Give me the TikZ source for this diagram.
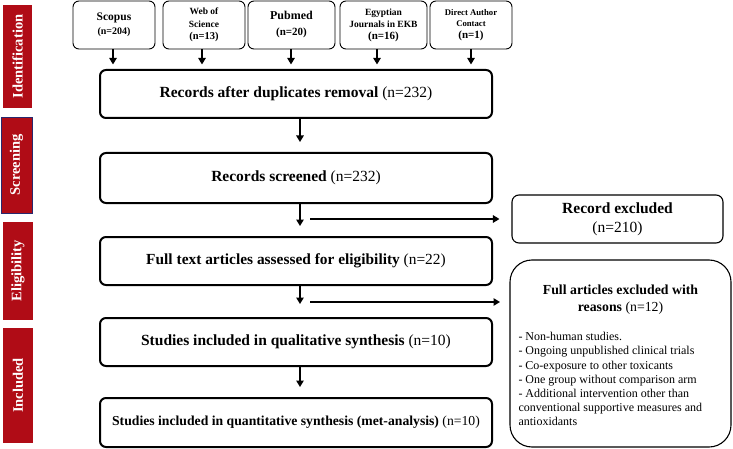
\documentclass[tikz,border=0pt]{standalone}
\usepackage{fontspec}
\setmainfont{Liberation Serif}
\usetikzlibrary{arrows.meta}
\definecolor{barred}{RGB}{176,12,22}
\definecolor{barnavy}{RGB}{40,40,110}
\newcommand{\fs}[2]{\fontsize{#1}{#2}\selectfont}
\begin{document}
\begin{tikzpicture}[x=1pt,y=-1pt,
  src/.style={draw, rounded corners=6pt, line width=0.9pt, align=center, inner sep=0pt, minimum height=48pt},
  mainbox/.style={draw, rounded corners=6pt, line width=2pt, align=center, inner sep=0pt, minimum width=392pt},
  sidebox/.style={draw, rounded corners=7pt, line width=1.1pt, align=center, inner sep=0pt},
  bar/.style={fill=barred, inner sep=0pt, rotate=90, text=white, font=\fs{14.5}{16}\bfseries},
  arr/.style={-{Triangle[length=6.5pt,width=7.5pt]}, line width=1.3pt},
]
\useasboundingbox (0,0) rectangle (733,449);

% phase bars
\node[bar, minimum width=103pt, minimum height=29pt] (b1) at (17.5,56.5) {Identification};
\node[bar, draw=barnavy, line width=0.6pt, minimum width=96pt, minimum height=31pt] (b2) at (16.5,165) {Screening};
\node[bar, minimum width=98pt, minimum height=30pt] (b3) at (18,271) {Eligibility};
\node[bar, minimum width=115pt, minimum height=30pt] (b4) at (18,385.5) {Included};

% sources
\node[src, minimum width=82pt, font=\fs{11.5}{14}\bfseries] (s1) at (114,25)
  {Scopus\\\fs{10}{14}(n=204)};
\node[src, minimum width=82pt, font=\fs{9.5}{12.5}\bfseries] (s2) at (204,25)
  {Web of\\Science\\\fs{10.5}{13}(n=13)};
\node[src, minimum width=87pt, font=\fs{12}{16}\bfseries] (s3) at (291.5,25)
  {Pubmed\\\fs{11}{16}(n=20)};
\node[src, minimum width=87pt, font=\fs{9.5}{12}\bfseries] (s4) at (383.5,25)
  {Egyptian\\Journals in EKB\\\fs{11}{13}(n=16)};
\node[src, minimum width=82pt, font=\fs{8.7}{11.5}\bfseries] (s5) at (471,25)
  {Direct Author\\Contact\\\fs{11}{12.5}(n=1)};

% main boxes
\node[mainbox, minimum height=48pt, font=\fs{15.5}{18}] (m1) at (296,94)
  {\textbf{Records after duplicates removal} (n=232)};
\node[mainbox, minimum height=50pt, font=\fs{15.5}{18}] (m2) at (296,178)
  {\textbf{Records screened} (n=232)};
\node[mainbox, minimum height=48pt, font=\fs{15.4}{18}] (m3) at (296,261)
  {\textbf{Full text articles assessed for eligibility} (n=22)};
\node[mainbox, minimum height=48pt, font=\fs{15.5}{18}] (m4) at (296,342)
  {\textbf{Studies included in qualitative synthesis} (n=10)};
\node[mainbox, minimum height=49pt, font=\fs{13.7}{16}] (m5) at (296,422.5)
  {\textbf{Studies included in quantitative synthesis (met-analysis)} (n=10)};

% exclusion boxes
\node[sidebox, minimum width=211pt, minimum height=48pt, font=\fs{15.5}{19}] (r1) at (617.5,219)
  {\raisebox{-2pt}{\textbf{Record excluded}}\\\raisebox{-2pt}{(n=210)}};
\node[sidebox, rounded corners=22pt, minimum width=221pt, minimum height=187pt] (r2) at (620.5,353.5)
  {\parbox{204pt}{\vspace*{4pt}\centering\fs{13.8}{17}\textbf{Full articles excluded with}\\\textbf{reasons} (n=12)\par
   \vspace{15pt}\raggedright\fs{12}{14.2}
   - Non-human studies.\\
   - Ongoing unpublished clinical trials\\
   - Co-exposure to other toxicants\\
   - One group without comparison arm\\
   - Additional intervention other than\\
   conventional supportive measures and\\
   antioxidants}};

% arrows from sources
\draw[arr] ([xshift=-1pt]s1.south) -- ++(0,15);
\draw[arr] ([xshift=-2pt]s2.south) -- ++(0,15);
\draw[arr] ([xshift=-0.5pt]s3.south) -- ++(0,15);
\draw[arr] ([xshift=-6.5pt]s4.south) -- ++(0,15);
\draw[arr] (s5.south) -- ++(0,15);

% main flow
\draw[arr] ([xshift=4pt]m1.south) -- ([xshift=4pt,yshift=10pt]m2.north);
\draw[arr] ([xshift=4pt]m2.south) -- ([xshift=4pt,yshift=10pt]m3.north);
\draw[arr] ([xshift=4pt]m3.south) -- ([xshift=4pt,yshift=13pt]m4.north);
\draw[arr] ([xshift=4pt]m4.south) -- ([xshift=4pt,yshift=10pt]m5.north);

% exclusion arrows
\coordinate (h1) at (310,219);
\coordinate (h2s) at (310,302);
\coordinate (h2e) at (500,302);
\draw[arr] (h1) -- ([xshift=-12pt]r1.west);
\draw[arr] (h2s) -- (h2e);
\end{tikzpicture}
\end{document}
